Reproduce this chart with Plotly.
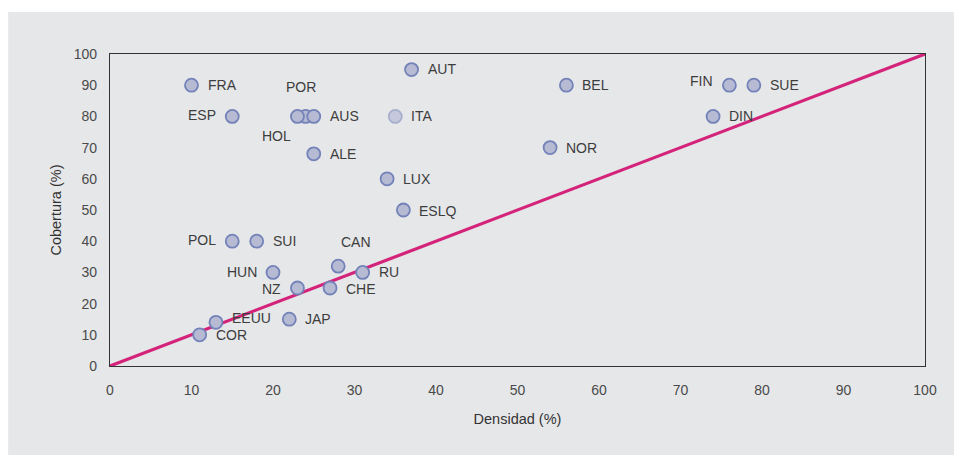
import plotly.graph_objects as go

countries = ["FRA", "ESP", "POR", "HOL", "AUS", "AUT", "ITA", "ALE", "LUX", "ESLQ",
             "BEL", "NOR", "FIN", "SUE", "DIN", "POL", "SUI", "HUN", "CAN", "RU",
             "NZ", "CHE", "EEUU", "JAP", "COR"]
densidad = [10, 15, 24, 23, 25, 37, 35, 25, 34, 36,
            56, 54, 76, 79, 74, 15, 18, 20, 28, 31,
            23, 27, 13, 22, 11]
cobertura = [90, 80, 80, 80, 80, 95, 80, 68, 60, 50,
             90, 70, 90, 90, 80, 40, 40, 30, 32, 30,
             25, 25, 14, 15, 10]
diag_x = [0, 100]
diag_y = [0, 100]
tick_vals = [0, 10, 20, 30, 40, 50, 60, 70, 80, 90, 100]

# label placement (styling): anchor and pixel shift
label_style = {
    "FRA": ("left", 14, 0), "ESP": ("right", -14, 1), "POR": ("center", -5, 29),
    "HOL": ("right", -4, -20), "AUS": ("left", 14, 0), "AUT": ("left", 14, 1),
    "ITA": ("left", 14, 0), "ALE": ("left", 14, 0), "LUX": ("left", 14, 0),
    "ESLQ": ("left", 14, -1), "BEL": ("left", 14, 0), "NOR": ("left", 14, 0),
    "FIN": ("right", -14, 4), "SUE": ("left", 14, 0), "DIN": ("left", 14, 0),
    "POL": ("right", -14, 1), "SUI": ("left", 14, 0), "HUN": ("right", -14, 0),
    "CAN": ("center", 18, 24), "RU": ("left", 14, 0), "NZ": ("right", -14, -1),
    "CHE": ("left", 14, -1), "EEUU": ("left", 14, 4), "JAP": ("left", 14, 0),
    "COR": ("left", 14, 0),
}

FONT = "Liberation Sans, Arial, sans-serif"
fill = ["#c6c9dc" if c == "ITA" else "#b6bbd3" for c in countries]
edge = ["#a7afcd" if c == "ITA" else "#7382b8" for c in countries]

fig = go.Figure()
fig.add_trace(go.Scatter(x=diag_x, y=diag_y, mode="lines",
                         line=dict(color="#d4237a", width=3.2), hoverinfo="skip"))
fig.add_trace(go.Scatter(x=densidad, y=cobertura, mode="markers", text=countries,
                         marker=dict(size=13, color=fill, line=dict(color=edge, width=1.8)),
                         cliponaxis=False))

for c, xv, yv in zip(countries, densidad, cobertura):
    anchor, dx, dy = label_style[c]
    fig.add_annotation(x=xv, y=yv, text=c, showarrow=False, xanchor=anchor,
                       yanchor="middle", xshift=dx, yshift=dy,
                       font=dict(family=FONT, size=14, color="#3d3d3d"))

# grey panel
fig.add_shape(type="rect", xref="paper", yref="paper", x0=-0.1250, x1=1.0355,
              y0=-0.30, y1=1.1346, fillcolor="#e6e7e9", line=dict(width=0), layer="below")

axis_common = dict(range=[0, 100], tickvals=tick_vals, showgrid=False, zeroline=False,
                   showline=True, linecolor="#333333", linewidth=1.2, mirror=True,
                   ticks="", tickfont=dict(family=FONT, size=14, color="#4a4a4a"))

fig.update_layout(
    width=957, height=455,
    margin=dict(l=110, r=32, t=54, b=89),
    paper_bgcolor="white", plot_bgcolor="#e6e7e9",
    showlegend=False,
    xaxis=dict(**axis_common, ticklabelstandoff=11,
               title=dict(text="Densidad (%)", standoff=16,
                          font=dict(family=FONT, size=14.5, color="#333333"))),
    yaxis=dict(**axis_common, ticklabelstandoff=9,
               title=dict(text="Cobertura (%)", standoff=8,
                          font=dict(family=FONT, size=14.5, color="#333333"))),
)

fig.write_html("out.html", config={"displayModeBar": False},
               post_script="document.body.style.margin='0';document.body.style.overflow='hidden';")
